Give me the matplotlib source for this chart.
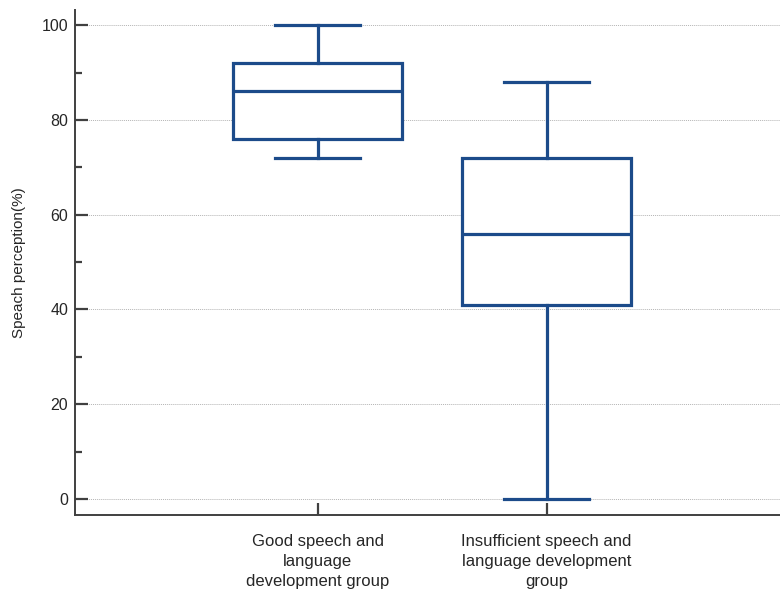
import matplotlib.pyplot as plt

plt.rcParams['font.family'] = ['Liberation Sans', 'DejaVu Sans']

# box statistics per group (read as whisker low, Q1, median, Q3, whisker high)
groups = ['Good speech and\nlanguage\ndevelopment group',
          'Insufficient speech and\nlanguage development\ngroup']
whislo = [72, 0]
q1 = [76, 41]
med = [86, 56]
q3 = [92, 72]
whishi = [100, 88]

blue = '#1c4b8a'
axis_col = '#404040'
text_col = '#262626'

stats = []
for i in range(len(groups)):
    stats.append({'whislo': whislo[i], 'q1': q1[i], 'med': med[i],
                  'q3': q3[i], 'whishi': whishi[i], 'fliers': []})

fig = plt.figure(figsize=(7.8, 5.89), dpi=100)
ax = fig.add_axes([0.0962, 0.1256, 0.9038, 0.8574])

lw = 2.3
ax.bxp(stats, positions=[1, 2], widths=0.74, showfliers=False, patch_artist=True,
       boxprops=dict(facecolor='white', edgecolor=blue, linewidth=lw),
       medianprops=dict(color=blue, linewidth=lw),
       whiskerprops=dict(color=blue, linewidth=lw),
       capprops=dict(color=blue, linewidth=lw),
       capwidths=0.37, zorder=3)

ax.set_xlim(-0.06, 3.02)
ax.set_ylim(-3.4, 103.2)
ax.set_yticks([0, 20, 40, 60, 80, 100])
ax.set_yticks([10, 30, 50, 70, 90], minor=True)
ax.set_xticks([1, 2])
ax.set_xticklabels(groups, fontsize=12, linespacing=1.4, color=text_col)
ax.tick_params(axis='y', labelsize=11.5, pad=5, labelcolor=text_col)

ax.yaxis.grid(True, which='major', linestyle=(0, (1, 1)), color='#b4b4b4', linewidth=0.7)
ax.set_axisbelow(True)

for s in ['top', 'right']:
    ax.spines[s].set_visible(False)
for s in ['left', 'bottom']:
    ax.spines[s].set_color(axis_col)
    ax.spines[s].set_linewidth(1.4)

ax.tick_params(axis='both', which='major', direction='in', length=9.5, width=1.6,
               color=axis_col)
ax.tick_params(axis='y', which='minor', direction='in', length=5, width=1.6,
               color=axis_col)
ax.tick_params(axis='x', which='major', pad=14, length=9)

ax.set_ylabel('Speach perception(%)', fontsize=11, labelpad=11, color=text_col)

fig.savefig('out.png', dpi=100)
